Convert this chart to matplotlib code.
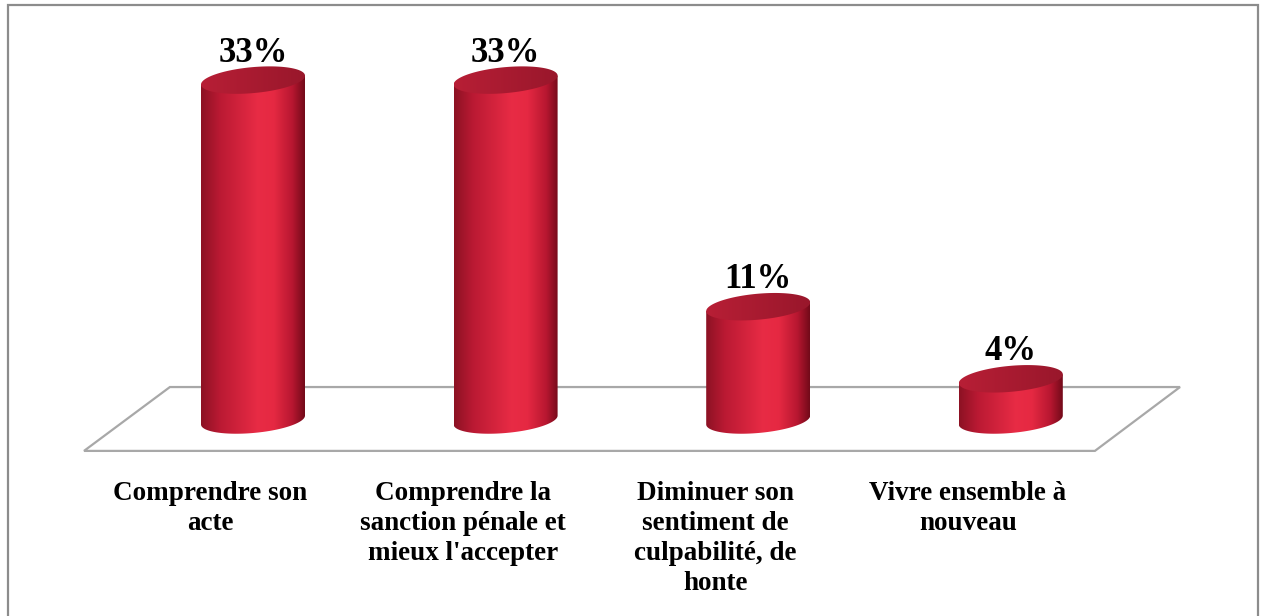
import numpy as np
import matplotlib
matplotlib.use("Agg")
import matplotlib.pyplot as plt
from matplotlib.patches import Polygon, Rectangle
from matplotlib.colors import LinearSegmentedColormap

# chart data
categories = [
    "Comprendre son\nacte",
    "Comprendre la\nsanction pénale et\nmieux l'accepter",
    "Diminuer son\nsentiment de\nculpabilité, de\nhonte",
    "Vivre ensemble à\nnouveau",
]
values = [33, 33, 11, 4]
value_labels = ["33%", "33%", "11%", "4%"]

W, H = 1261, 616
PX_X = 252.6   # pixels per category
PX_Y = 10.3    # pixels per percent

fig = plt.figure(figsize=(W / 100, H / 100), dpi=100)
ax = fig.add_axes([0, 0, 1, 1])
ax.set_axis_off()

# cylinder geometry (data units)
half_w = 52 / PX_X
b = 13 / PX_Y
shear = 0.085 * PX_X / PX_Y   # right side of the ellipses sits higher

body_cmap = LinearSegmentedColormap.from_list("body", [
    (0.00, (0.55, 0.07, 0.14)),
    (0.18, (0.73, 0.10, 0.20)),
    (0.55, (0.91, 0.17, 0.27)),
    (0.70, (0.90, 0.16, 0.26)),
    (0.88, (0.72, 0.09, 0.19)),
    (1.00, (0.45, 0.04, 0.10)),
])
top_cmap = LinearSegmentedColormap.from_list("top", [
    (0.0, (0.72, 0.12, 0.21)),
    (1.0, (0.60, 0.09, 0.17)),
])

# floor
floor = Polygon([(-0.329, 3.2), (3.67, 3.2), (3.333, -3.0), (-0.669, -3.0)],
                closed=True, facecolor="white", edgecolor="#a8a8a8", lw=1.6, zorder=1)
ax.add_patch(floor)

t = np.linspace(0, 2 * np.pi, 200)
grad = np.linspace(0, 1, 256).reshape(1, -1)

for i, v in enumerate(values):
    xc = i
    # body outline: top edge, right side, front arc of the bottom ellipse, left side
    tb = np.linspace(0, -np.pi, 100)
    bx = xc + half_w * np.cos(tb)
    by = b * np.sin(tb) + shear * half_w * np.cos(tb)
    pts = [(xc - half_w, v - shear * half_w), (xc + half_w, v + shear * half_w)]
    pts += list(zip(bx, by))
    body = Polygon(pts, closed=True, facecolor="none", edgecolor="none", zorder=3)
    ax.add_patch(body)
    im = ax.imshow(grad, cmap=body_cmap, aspect="auto", zorder=3,
                   extent=[xc - half_w, xc + half_w, -b - 1, v + b + 1])
    im.set_clip_path(body)

    # top ellipse
    ex = xc + half_w * np.cos(t)
    ey = v + b * np.sin(t) + shear * half_w * np.cos(t)
    top = Polygon(list(zip(ex, ey)), closed=True, facecolor="none",
                  edgecolor="none", zorder=4)
    ax.add_patch(top)
    im2 = ax.imshow(grad, cmap=top_cmap, aspect="auto", zorder=4,
                    extent=[xc - half_w, xc + half_w, v - b - 3, v + b + 3])
    im2.set_clip_path(top)

    ax.text(xc, v + 1.8, value_labels[i], ha="center", va="baseline",
            fontsize=25, fontweight="bold", family="Liberation Serif", zorder=5)

    ax.text(xc - 0.17, (420 - 481) / PX_Y, categories[i], ha="center", va="top",
            fontsize=19.5, fontweight="bold", family="Liberation Serif",
            linespacing=1.27, zorder=5)

ax.set_xlim(-253 / PX_X, (W - 253) / PX_X)
ax.set_ylim(-(H - 420) / PX_Y, 420 / PX_Y)

# outer frame (bottom edge falls outside the picture)
fig.add_artist(Rectangle((8 / W, -0.05), (1258 - 8) / W, 1 - 5 / H + 0.05,
                         transform=fig.transFigure, fill=False,
                         edgecolor="#8c8c8c", lw=1.6))

fig.savefig("out.png", dpi=100)
